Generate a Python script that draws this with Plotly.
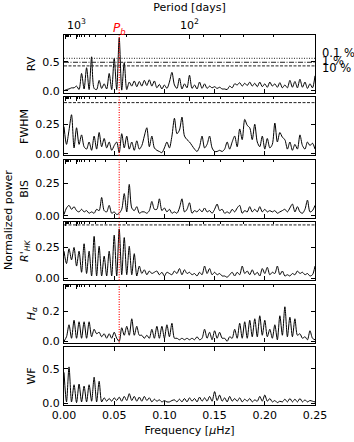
import numpy as np
import plotly.graph_objects as go

# periodogram frequency grid [uHz]
freq_step = 0.0025
n_freq = 101

rv_power = [
    0.00, 0.02, 0.03, 0.05, 0.05, 0.08, 0.02, 0.30, 0.03, 0.40,
    0.02, 0.59, 0.04, 0.02, 0.18, 0.04, 0.12, 0.03, 0.30, 0.02,
    0.56, 0.02, 0.92, 0.01, 0.49, 0.02, 0.15, 0.08, 0.17, 0.07,
    0.16, 0.08, 0.18, 0.09, 0.19, 0.08, 0.17, 0.05, 0.11, 0.03,
    0.10, 0.04, 0.15, 0.32, 0.10, 0.04, 0.22, 0.03, 0.12, 0.05,
    0.27, 0.04, 0.10, 0.03, 0.15, 0.04, 0.12, 0.04, 0.08, 0.05,
    0.07, 0.04, 0.06, 0.03, 0.03, 0.02, 0.08, 0.05, 0.12, 0.10,
    0.14, 0.08, 0.13, 0.09, 0.15, 0.08, 0.13, 0.07, 0.15, 0.07,
    0.12, 0.06, 0.15, 0.08, 0.12, 0.06, 0.14, 0.05, 0.10, 0.05,
    0.18, 0.06, 0.16, 0.05, 0.20, 0.06, 0.15, 0.04, 0.12, 0.05,
    0.26,
]
fwhm_power = [
    0.23, 0.08, 0.20, 0.33, 0.05, 0.22, 0.08, 0.16, 0.06, 0.04,
    0.10, 0.03, 0.15, 0.04, 0.18, 0.06, 0.13, 0.05, 0.10, 0.03,
    0.07, 0.10, 0.01, 0.17, 0.05, 0.15, 0.04, 0.10, 0.03, 0.11,
    0.04, 0.07, 0.15, 0.22, 0.06, 0.15, 0.05, 0.03, 0.02, 0.01,
    0.05, 0.10, 0.05, 0.15, 0.30, 0.17, 0.20, 0.31, 0.15, 0.12,
    0.10, 0.07, 0.04, 0.02, 0.06, 0.15, 0.05, 0.08, 0.15, 0.05,
    0.02, 0.02, 0.03, 0.02, 0.04, 0.10, 0.04, 0.10, 0.15, 0.06,
    0.21, 0.12, 0.29, 0.24, 0.22, 0.12, 0.25, 0.10, 0.06, 0.15,
    0.04, 0.13, 0.05, 0.08, 0.26, 0.10, 0.18, 0.14, 0.12, 0.04,
    0.10, 0.03, 0.08, 0.04, 0.16, 0.07, 0.04, 0.10, 0.07, 0.09,
    0.04,
]
bis_power = [
    0.01, 0.06, 0.08, 0.05, 0.07, 0.04, 0.03, 0.05, 0.03, 0.04,
    0.02, 0.03, 0.02, 0.05, 0.04, 0.14, 0.04, 0.03, 0.08, 0.02,
    0.03, 0.01, 0.02, 0.05, 0.17, 0.03, 0.24, 0.06, 0.04, 0.07,
    0.02, 0.03, 0.03, 0.02, 0.04, 0.11, 0.05, 0.05, 0.13, 0.04,
    0.06, 0.03, 0.05, 0.02, 0.03, 0.02, 0.06, 0.13, 0.03, 0.05,
    0.10, 0.02, 0.04, 0.03, 0.05, 0.03, 0.06, 0.03, 0.04, 0.02,
    0.05, 0.09, 0.04, 0.05, 0.02, 0.03, 0.02, 0.05, 0.03, 0.06,
    0.08, 0.02, 0.04, 0.03, 0.07, 0.03, 0.05, 0.03, 0.07, 0.03,
    0.05, 0.03, 0.04, 0.03, 0.04, 0.02, 0.03, 0.04, 0.05, 0.03,
    0.06, 0.09, 0.03, 0.07, 0.03, 0.02, 0.05, 0.12, 0.03, 0.04,
    0.08,
]
rhk_power = [
    0.22, 0.12, 0.24, 0.15, 0.25, 0.10, 0.22, 0.05, 0.28, 0.04,
    0.22, 0.02, 0.34, 0.02, 0.26, 0.02, 0.18, 0.02, 0.22, 0.02,
    0.35, 0.02, 0.40, 0.03, 0.33, 0.03, 0.26, 0.03, 0.20, 0.02,
    0.10, 0.04, 0.07, 0.03, 0.06, 0.04, 0.05, 0.06, 0.03, 0.05,
    0.02, 0.05, 0.04, 0.03, 0.06, 0.04, 0.08, 0.03, 0.07, 0.04,
    0.05, 0.03, 0.04, 0.02, 0.05, 0.03, 0.10, 0.04, 0.08, 0.03,
    0.05, 0.03, 0.04, 0.02, 0.02, 0.01, 0.03, 0.05, 0.02, 0.05,
    0.03, 0.10, 0.04, 0.06, 0.03, 0.07, 0.03, 0.05, 0.02, 0.08,
    0.04, 0.09, 0.03, 0.05, 0.04, 0.10, 0.03, 0.06, 0.02, 0.03,
    0.02, 0.04, 0.03, 0.06, 0.04, 0.05, 0.03, 0.04, 0.02, 0.03,
    0.10,
]
halpha_power = [
    0.00, 0.03, 0.11, 0.02, 0.14, 0.02, 0.13, 0.02, 0.13, 0.02,
    0.13, 0.03, 0.08, 0.05, 0.06, 0.03, 0.05, 0.02, 0.05, 0.02,
    0.06, 0.02, 0.00, 0.09, 0.04, 0.10, 0.04, 0.15, 0.04, 0.10,
    0.04, 0.04, 0.02, 0.04, 0.02, 0.08, 0.02, 0.10, 0.02, 0.10,
    0.02, 0.11, 0.03, 0.12, 0.02, 0.02, 0.01, 0.02, 0.01, 0.02,
    0.01, 0.02, 0.01, 0.03, 0.01, 0.02, 0.08, 0.02, 0.06, 0.01,
    0.07, 0.02, 0.06, 0.02, 0.02, 0.00, 0.03, 0.02, 0.08, 0.02,
    0.12, 0.02, 0.13, 0.02, 0.14, 0.03, 0.15, 0.03, 0.17, 0.04,
    0.14, 0.03, 0.08, 0.02, 0.11, 0.01, 0.17, 0.04, 0.23, 0.03,
    0.16, 0.03, 0.15, 0.04, 0.05, 0.02, 0.03, 0.01, 0.07, 0.02,
    0.01,
]
wf_power = [
    0.45, 0.02, 0.53, 0.02, 0.27, 0.01, 0.28, 0.02, 0.25, 0.02,
    0.27, 0.03, 0.38, 0.02, 0.32, 0.02, 0.08, 0.03, 0.07, 0.03,
    0.08, 0.04, 0.09, 0.03, 0.10, 0.04, 0.14, 0.04, 0.10, 0.03,
    0.09, 0.03, 0.10, 0.04, 0.08, 0.02, 0.06, 0.03, 0.05, 0.02,
    0.04, 0.02, 0.02, 0.04, 0.05, 0.02, 0.06, 0.02, 0.07, 0.02,
    0.08, 0.03, 0.07, 0.02, 0.09, 0.03, 0.08, 0.03, 0.10, 0.03,
    0.17, 0.04, 0.12, 0.03, 0.08, 0.02, 0.10, 0.03, 0.07, 0.03,
    0.08, 0.02, 0.06, 0.03, 0.07, 0.02, 0.05, 0.03, 0.10, 0.03,
    0.12, 0.03, 0.07, 0.02, 0.04, 0.01, 0.03, 0.02, 0.06, 0.02,
    0.07, 0.02, 0.06, 0.02, 0.07, 0.02, 0.05, 0.02, 0.04, 0.03,
    0.02,
]

panel_names = ["RV", "FWHM", "BIS", "<i>R'</i><sub><i>HK</i></sub>",
               "<i>H</i><sub><i>α</i></sub>", "WF"]
fap_levels = [0.564, 0.495, 0.432]
fap_labels = ["0.1 %", "1 %", "10 %"]
pb_freq = 0.055
period_factor = 12.5  # period [d] = factor / freq

freq = np.arange(n_freq) * freq_step
powers = [rv_power, fwhm_power, bis_power, rhk_power, halpha_power, wf_power]

y_ranges = [[-0.04, 0.97], [-0.013, 0.476], [-0.015, 0.428],
            [-0.014, 0.454], [-0.009, 0.378], [-0.025, 0.82]]
y_dticks = [0.5, 0.25, 0.25, 0.25, 0.2, 0.5]
y_formats = [".1f", ".2f", ".2f", ".2f", ".1f", ".1f"]
fap_dash = ["1px,1.5px", "5px,1.5px,1px,1.5px", "3px,1.5px"]

plot_h = 370.0
step_px, panel_px = 62.4, 58.0
FONT = "DejaVu Sans"


def ax_id(letter, n):
    return letter if n == 1 else f"{letter}{n}"


fig = go.Figure()
layout = {}
shapes = []

for k, (name, p) in enumerate(zip(panel_names, powers)):
    n = k + 1
    xa, ya = ax_id("x", n), ax_id("y", n)
    fig.add_trace(go.Scatter(x=freq, y=p, mode="lines", xaxis=xa, yaxis=ya,
                             line=dict(color="black", width=1, shape="spline", smoothing=0.8),
                             showlegend=False, hoverinfo="skip"))
    if k < 4:
        for lev, dash in zip(fap_levels, fap_dash):
            if lev < y_ranges[k][1]:
                fig.add_trace(go.Scatter(x=[0, 0.25], y=[lev, lev], mode="lines",
                                         xaxis=xa, yaxis=ya, showlegend=False,
                                         hoverinfo="skip",
                                         line=dict(color="#222", width=1, dash=dash)))
    top = step_px * k
    dom = [1 - (top + panel_px) / plot_h, 1 - top / plot_h]
    layout[f"xaxis{n}"] = dict(
        domain=[0, 1], anchor=ya, range=[0, 0.25], dtick=0.05, tick0=0,
        ticks="inside", ticklen=4, tickwidth=1, tickcolor="black",
        showline=True, linecolor="black", linewidth=1.3,
        mirror="ticks" if k == 5 else True,
        showgrid=False, zeroline=False, automargin=False,
        showticklabels=(k == 5), tickformat=".2f",
        title=dict(text="Frequency [<i>μ</i>Hz]" if k == 5 else "", standoff=4,
                   font=dict(size=11)),
    )
    layout[f"yaxis{n}"] = dict(
        domain=dom, anchor=xa, range=y_ranges[k], dtick=y_dticks[k], tick0=0,
        tickformat=y_formats[k], ticks="inside", ticklen=4, tickwidth=1,
        tickcolor="black", showline=True, linecolor="black", linewidth=1.3,
        mirror="ticks", showgrid=False, zeroline=False, ticklabelstandoff=1,
        automargin=False,
        title=dict(text=name, standoff=4, font=dict(size=11)),
    )
    if k < 5:
        shapes.append(dict(type="line", xref=xa, yref=f"{ya} domain",
                           x0=pb_freq, x1=pb_freq, y0=0, y1=1,
                           line=dict(color="red", width=1.2, dash="1px,1.5px")))

# period axis on top of panels 1-5
major_periods = [1e4, 1e3, 1e2]
major_text = ["", "10<sup>3</sup>", "10<sup>2</sup>"]
minor_periods = [9000, 8000, 7000, 6000, 5000, 4000, 3000, 2000,
                 900, 800, 700, 600, 500, 400, 300, 200, 90, 80, 70, 60]
for k in range(5):
    n = k + 1
    an = 7 + k
    fig.add_trace(go.Scatter(x=[None], y=[None], xaxis=f"x{an}", yaxis=ax_id("y", n),
                             showlegend=False, hoverinfo="skip"))
    layout[f"xaxis{an}"] = dict(
        overlaying=ax_id("x", n), anchor=ax_id("y", n), side="top", range=[0, 0.25],
        tickmode="array", tickvals=[period_factor / p for p in major_periods],
        ticktext=major_text, showticklabels=(k == 0), automargin=False,
        ticks="inside", ticklen=4, tickwidth=1, tickcolor="black",
        ticklabelstandoff=3,
        minor=dict(tickmode="array",
                   tickvals=[period_factor / p for p in minor_periods],
                   ticks="inside", ticklen=2, tickwidth=1, tickcolor="black"),
        showgrid=False, zeroline=False, showline=False,
        title=dict(text="Period [days]" if k == 0 else "", standoff=3,
                   font=dict(size=11)),
    )

annotations = [
    dict(text="<i>P</i><sub><i>b</i></sub>", x=pb_freq, xref="x", y=1.016,
         yref="paper", yanchor="middle", showarrow=False,
         font=dict(color="red", size=12)),
    dict(text="Normalized power", x=-0.223, xref="paper", xanchor="center",
         y=0.5, yref="paper", yanchor="middle",
         textangle=-90, showarrow=False, font=dict(size=11)),
]
for lab, ypos in zip(fap_labels, [0.9527, 0.931, 0.912]):
    annotations.append(dict(text=lab, x=1.02, xref="paper", xanchor="left",
                            y=ypos, yref="paper", yanchor="middle",
                            showarrow=False, font=dict(size=11.5)))

fig.update_layout(
    width=354, height=442,
    margin=dict(l=64, r=39, t=35, b=37),
    paper_bgcolor="white", plot_bgcolor="white",
    font=dict(family=FONT, size=11, color="black"),
    shapes=shapes, annotations=annotations,
    **layout,
)

# drop the default page margin so the figure sits at the window's corner
fig.write_html("out.html", config={"displayModeBar": False},
               post_script="document.body.style.margin = '0px';")
